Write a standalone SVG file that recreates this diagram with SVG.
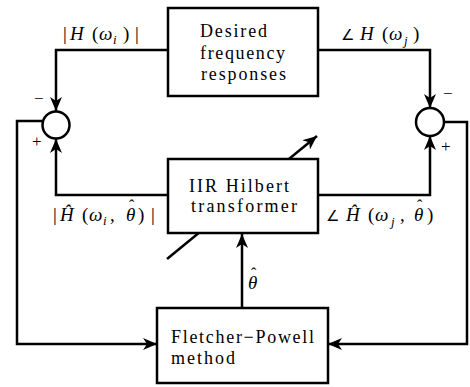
<svg xmlns="http://www.w3.org/2000/svg" width="470" height="387" viewBox="0 0 470 387">
<style>
.box{fill:#fff;stroke:#000;stroke-width:2.5}
.ln{fill:none;stroke:#000;stroke-width:2.5}
.sum{fill:#fff;stroke:#000;stroke-width:2.5}
.t{font-family:"Liberation Serif","Times New Roman",serif;font-size:18px;fill:#000}
.m{font-family:"Liberation Serif","Times New Roman",serif;font-size:19px;fill:#000}
.it{font-style:italic}
.sub{font-size:13px;font-style:italic}
.hat{font-size:16px;font-style:normal}
.ang{font-family:"DejaVu Sans",sans-serif;font-size:15px}
.sg{font-family:"Liberation Serif",serif;font-size:17px;fill:#000}
</style>
<defs>
<marker id="ah" markerUnits="userSpaceOnUse" markerWidth="16" markerHeight="12" refX="14" refY="6" orient="auto">
<path d="M0,0 L14,6 L0,12 L4,6 z" fill="#000"/>
</marker>
</defs>
<g id="connectors">
<polyline class="ln" points="168,50 56,50 56,111" marker-end="url(#ah)"/>
<polyline class="ln" points="168,195 56,195 56,139" marker-end="url(#ah)"/>
<polyline class="ln" points="318,50 430,50 430,108" marker-end="url(#ah)"/>
<polyline class="ln" points="318,195 430,195 430,136" marker-end="url(#ah)"/>
<polyline class="ln" points="43,121 17,121 17,344 157,344" marker-end="url(#ah)"/>
<polyline class="ln" points="444,122 467,122 467,344 328,344" marker-end="url(#ah)"/>
<line class="ln" x1="242" y1="308" x2="242" y2="234" marker-end="url(#ah)"/>
<line class="ln" x1="167" y1="259" x2="317" y2="136" marker-end="url(#ah)"/>
</g>
<g id="desired">
<rect class="box" x="168" y="8" width="150" height="88"/>
<text class="t" x="200" y="37" textLength="67" lengthAdjust="spacing">Desired</text>
<text class="t" x="200" y="59" textLength="85" lengthAdjust="spacing">frequency</text>
<text class="t" x="201" y="80" textLength="85" lengthAdjust="spacing">responses</text>
</g>
<g id="iir">
<rect class="box" x="168" y="159" width="150" height="74"/>
<text class="t" x="189" y="192" textLength="100" lengthAdjust="spacing">IIR Hilbert</text>
<text class="t" x="191" y="212" textLength="106" lengthAdjust="spacing">transformer</text>
</g>
<g id="fletcher">
<rect class="box" x="157" y="308" width="171" height="75"/>
<text class="t" x="171" y="343" textLength="143" lengthAdjust="spacing">Fletcher−Powell</text>
<text class="t" x="171" y="364" textLength="64" lengthAdjust="spacing">method</text>
</g>
<g id="sum-left">
<circle class="sum" cx="56" cy="125" r="13.5"/>
<text class="sg" x="34" y="104">−</text>
<text class="sg" x="32" y="147">+</text>
</g>
<g id="sum-right">
<circle class="sum" cx="430" cy="122" r="14"/>
<text class="sg" x="443" y="99">−</text>
<text class="sg" x="441" y="152">+</text>
</g>
<g id="labels">
<text class="m" y="40"><tspan x="63">|</tspan><tspan class="it" x="70">H</tspan><tspan x="92">(</tspan><tspan class="it" x="99">ω</tspan><tspan class="sub" x="113" dy="4">i</tspan><tspan x="123" dy="-4">)</tspan><tspan x="135">|</tspan></text>
<text class="m" y="40"><tspan class="ang" x="341">∠</tspan><tspan class="it" x="360">H</tspan><tspan x="382">(</tspan><tspan class="it" x="389">ω</tspan><tspan class="sub" x="404" dy="5">j</tspan><tspan x="413" dy="-5">)</tspan></text>
<text class="m" y="221"><tspan x="53">|</tspan><tspan class="it" x="60">Ĥ</tspan><tspan x="82">(</tspan><tspan class="it" x="89">ω</tspan><tspan class="sub" x="103" dy="4">i</tspan><tspan x="110" dy="-4">,</tspan><tspan class="it" x="126">θ</tspan><tspan class="hat" x="129" dy="-10">ˆ</tspan><tspan x="138" dy="10">)</tspan><tspan x="151">|</tspan></text>
<text class="m" y="221"><tspan class="ang" x="326">∠</tspan><tspan class="it" x="346">Ĥ</tspan><tspan x="368">(</tspan><tspan class="it" x="375">ω</tspan><tspan class="sub" x="391" dy="5">j</tspan><tspan x="400" dy="-5">,</tspan><tspan class="it" x="414">θ</tspan><tspan class="hat" x="417" dy="-10">ˆ</tspan><tspan x="427" dy="10">)</tspan></text>
<text class="m it" x="248" y="289">θ<tspan class="hat" x="251" dy="-10">ˆ</tspan></text>
</g>
</svg>
